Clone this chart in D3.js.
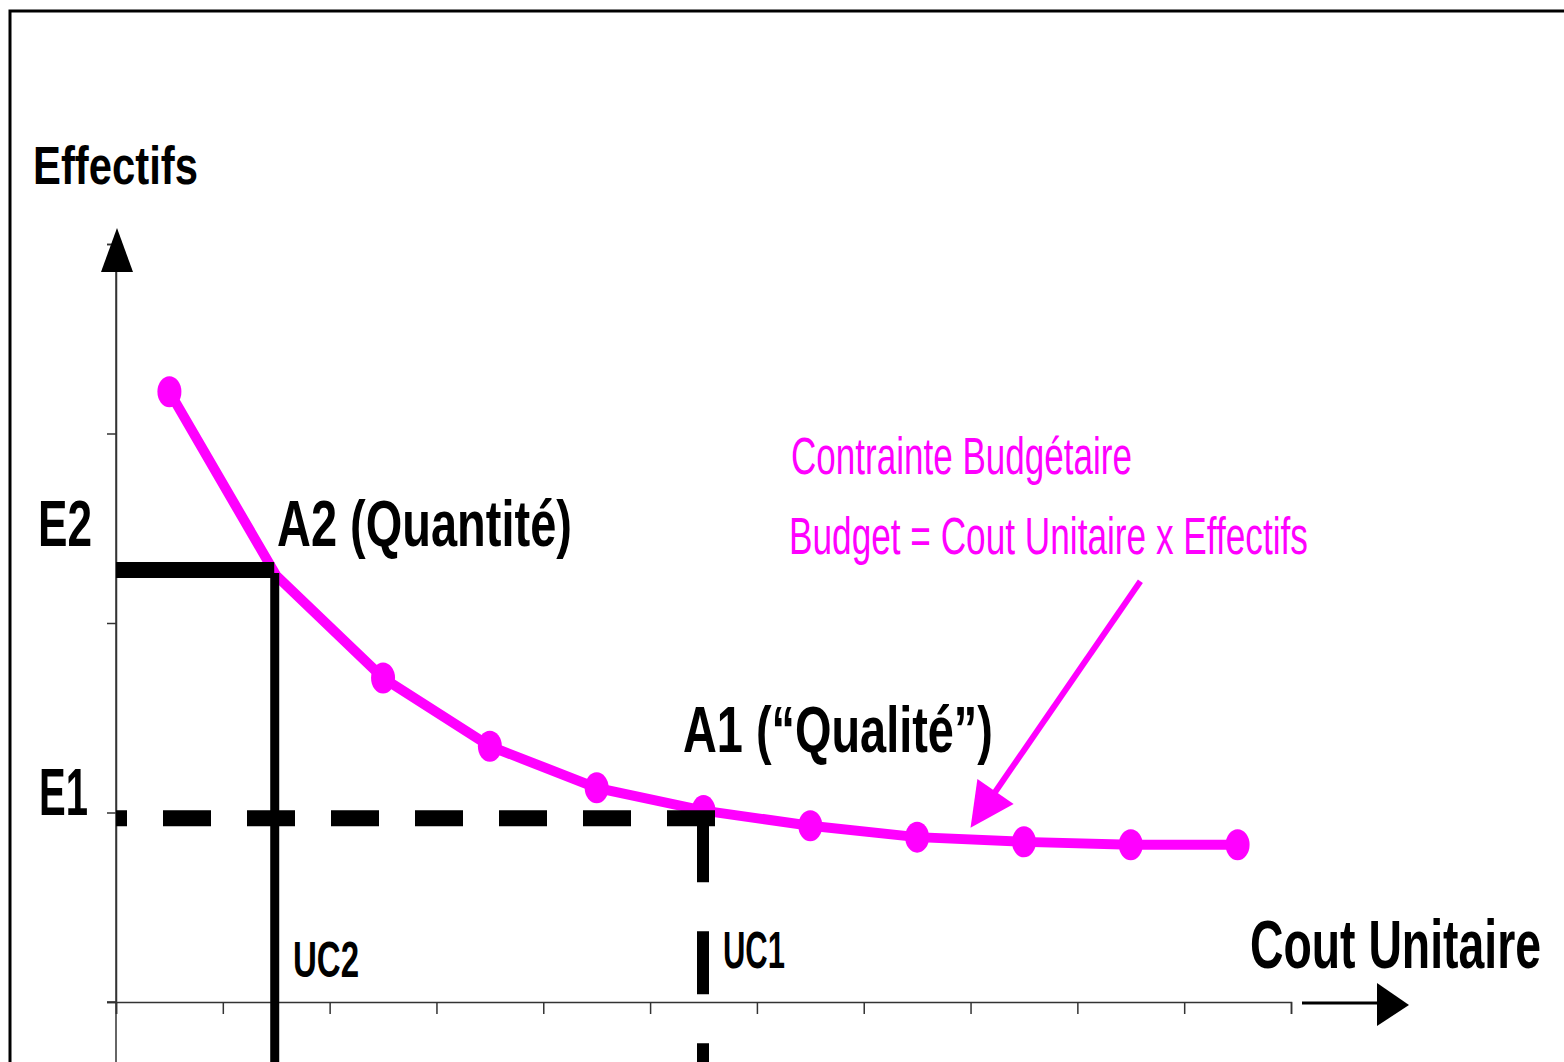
<!DOCTYPE html>
<html>
<head>
<meta charset="utf-8">
<script src="https://cdn.jsdelivr.net/npm/d3@7"></script>
<style>
  html, body { margin: 0; padding: 0; background: #fff; }
  svg { display: block; }
</style>
</head>
<body>
<svg id="chart" width="1564" height="1062"></svg>
<script>
// ---- Data ----
const categories = ["UC-a","UC-b","UC-c","UC-d","UC-e","UC-f","UC-g","UC-h","UC-i","UC-j","UC-k"];
const effectifs  = [3.22, 2.25, 1.71, 1.35, 1.13, 1.01, 0.93, 0.87, 0.845, 0.83, 0.83];
const yTickValues = [0, 1, 2, 3, 4];
const pointA2 = 1;            // index of A2 (Quantité)
const pointA1 = 5;            // index of A1 (“Qualité”)
const levelE2 = 2.28;         // E2 guide level
const levelE1 = 0.97;         // E1 guide level
const arrowStart = [9.59, 2.22];   // annotation arrow, data units (x index, value)
const arrowTip   = [8.00, 0.92];

// ---- Layout ----
const svg = d3.select("#chart");
const MAG = "#ff00ff";
const FONT = "'Liberation Sans Narrow','Arial Narrow','Liberation Sans',Arial,sans-serif";

const xBand = d3.scaleBand().domain(categories).range([116, 1291]).padding(0);
const xLin  = d3.scaleLinear().domain([0, categories.length]).range(xBand.range());
const y     = d3.scaleLinear().domain([0, 4]).range([1002, 244]);
const cx = (i) => xBand(categories[i]) + xBand.bandwidth() / 2;

// frame
svg.append("path").attr("d", "M10,1070 V11 H1570")
  .attr("fill", "none").attr("stroke", "#000").attr("stroke-width", 3);

// y axis extension line
svg.append("line").attr("x1", 116).attr("x2", 116).attr("y1", 260).attr("y2", 1062)
  .attr("stroke", "#333").attr("stroke-width", 1.5);

// axes
const yAxis = d3.axisLeft(y).tickValues(yTickValues).tickSize(9).tickFormat("");
svg.append("g").attr("transform", "translate(116,0)").call(yAxis)
  .call(g => g.selectAll("path,line").attr("stroke", "#333").attr("stroke-width", 1.5));

const xAxis = d3.axisBottom(xLin).tickValues(d3.range(0, categories.length + 1)).tickSize(12).tickFormat("");
svg.append("g").attr("transform", "translate(0,1002)").call(xAxis)
  .call(g => g.selectAll("path,line").attr("stroke", "#333").attr("stroke-width", 1.5));
svg.append("line").attr("x1", 107).attr("x2", 116).attr("y1", 1002).attr("y2", 1002)
  .attr("stroke", "#333").attr("stroke-width", 1.5);

// axis arrows
svg.append("polygon").attr("points", "117,228 101,272 133,272").attr("fill", "#000");
svg.append("line").attr("x1", 1302).attr("x2", 1380).attr("y1", 1003).attr("y2", 1003)
  .attr("stroke", "#000").attr("stroke-width", 3);
svg.append("polygon").attr("points", "1377,983 1409,1005 1377,1026").attr("fill", "#000");

// budget constraint curve
const pts = effectifs.map((v, i) => ({ v, i }));
const line = d3.line().x(d => cx(d.i)).y(d => y(d.v));
svg.append("path").datum(pts).attr("d", line)
  .attr("fill", "none").attr("stroke", MAG).attr("stroke-width", 10).attr("stroke-linejoin", "miter");
svg.selectAll("ellipse.pt").data(pts.filter(d => d.i !== pointA2)).enter()
  .append("ellipse").attr("class", "pt")
  .attr("cx", d => cx(d.i))
  .attr("cy", d => y(d.v)).attr("rx", 12).attr("ry", 15.5).attr("fill", MAG);

// guides A2 (solid)
const xA2 = cx(pointA2);
svg.append("line").attr("x1", 116).attr("x2", xA2 - 2).attr("y1", y(levelE2)).attr("y2", y(levelE2))
  .attr("stroke", "#000").attr("stroke-width", 16);
svg.append("line").attr("x1", xA2 - 1.5).attr("x2", xA2 - 1.5).attr("y1", y(levelE2) + 3).attr("y2", 1070)
  .attr("stroke", "#000").attr("stroke-width", 9);

// guides A1 (dashed)
const xA1 = cx(pointA1);
svg.append("line").attr("x1", 116).attr("x2", xA1 + 12).attr("y1", y(levelE1)).attr("y2", y(levelE1))
  .attr("stroke", "#000").attr("stroke-width", 16)
  .attr("stroke-dasharray", "48 36").attr("stroke-dashoffset", 37);
svg.append("line").attr("x1", xA1 - 0.5).attr("x2", xA1 - 0.5).attr("y1", y(levelE1) + 1).attr("y2", 1120)
  .attr("stroke", "#000").attr("stroke-width", 12)
  .attr("stroke-dasharray", "63 49");

// annotation arrow
const tip = [xLin(arrowTip[0]), y(arrowTip[1])];
const st  = [xLin(arrowStart[0]), y(arrowStart[1])];
const dx = st[0] - tip[0], dy = st[1] - tip[1], L = Math.hypot(dx, dy);
const ux = dx / L, uy = dy / L, hl = 44, hw = 22;
const base = [tip[0] + ux * hl, tip[1] + uy * hl];
svg.append("line").attr("x1", st[0]).attr("y1", st[1]).attr("x2", base[0] + ux * -4).attr("y2", base[1] + uy * -4)
  .attr("stroke", MAG).attr("stroke-width", 6);
svg.append("polygon").attr("points", [
  tip, [base[0] - uy * hw, base[1] + ux * hw], [base[0] + uy * hw, base[1] - ux * hw]
].map(p => p.join(",")).join(" ")).attr("fill", MAG);

// texts (condensed horizontally to the widths seen in the reference)
const texts = [
  { t: "Effectifs", x: 33, y: 184, size: 53, w: 165, bold: true, c: "#000" },
  { t: "E2", x: 38, y: 546, size: 65, w: 54, bold: true, c: "#000" },
  { t: "E1", x: 39, y: 815, size: 66, w: 49, bold: true, c: "#000" },
  { t: "A2 (Quantité)", x: 277, y: 546, size: 65, w: 295, bold: true, c: "#000" },
  { t: "A1 (“Qualité”)", x: 683, y: 752, size: 64, w: 310, bold: true, c: "#000" },
  { t: "UC2", x: 293, y: 977, size: 50, w: 66, bold: true, c: "#000" },
  { t: "UC1", x: 723, y: 968, size: 51, w: 62, bold: true, c: "#000" },
  { t: "Cout Unitaire", x: 1250, y: 968, size: 69, w: 291, bold: true, c: "#000" },
  { t: "Contrainte Budgétaire", x: 791, y: 474, size: 51, w: 341, bold: false, c: MAG },
  { t: "Budget = Cout Unitaire x Effectifs", x: 789, y: 554, size: 51, w: 519, bold: false, c: MAG }
];
svg.selectAll("text.lbl").data(texts).enter().append("text").attr("class", "lbl")
  .attr("x", 0).attr("y", 0)
  .attr("font-family", FONT).attr("font-size", d => d.size)
  .attr("font-weight", d => d.bold ? "bold" : "normal")
  .attr("fill", d => d.c)
  .text(d => d.t)
  .each(function (d) {
    const natural = this.getComputedTextLength() || d.w;
    const sx = d.w / natural;
    d3.select(this).attr("transform", `translate(${d.x},${d.y}) scale(${sx},1)`);
  });
</script>
</body>
</html>
